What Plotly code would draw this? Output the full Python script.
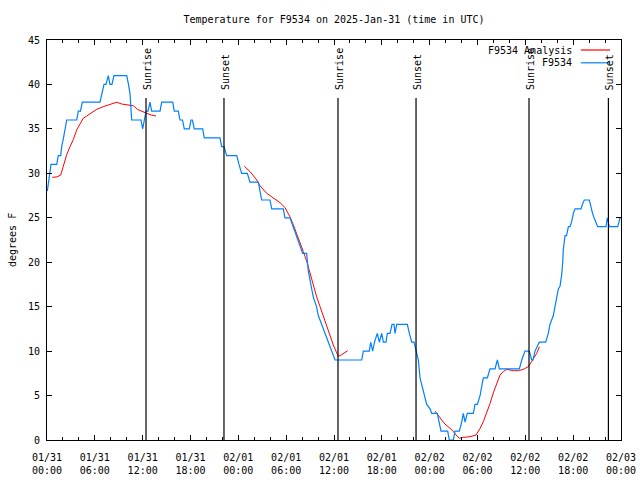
import pandas as pd
import plotly.graph_objects as go

BASE = pd.Timestamp("2025-01-31 00:00")

# Observed station temperature (hours since 01/31 00:00 UTC, degrees F)
obs_hours = [0.04, 0.38, 0.50, 1.22, 1.42, 1.72, 1.84, 2.07, 2.26, 2.47, 3.73, 3.93, 4.20, 4.43,
             6.65, 6.86, 7.15, 7.40, 7.69, 7.90, 8.15, 8.40, 10.00, 10.22, 10.41, 10.62, 11.79,
             12.00, 12.23, 12.42, 12.67, 12.92, 13.13, 14.18, 14.39, 15.77, 15.97, 16.47, 16.68,
             17.00, 17.22, 17.85, 18.06, 18.23, 18.48, 19.53, 19.73, 21.70, 21.91, 22.20, 22.54,
             23.80, 24.08, 24.42, 25.13, 25.46, 26.51, 26.72, 26.93, 27.97, 28.19, 29.64, 29.85,
             30.48, 30.90, 31.32, 31.74, 32.07, 32.57, 32.78, 33.20, 33.43, 33.81, 34.03, 34.46,
             34.87, 35.29, 35.71, 36.13, 39.48, 39.68, 40.43, 40.60, 40.85, 41.08, 41.43, 41.68,
             41.99, 42.19, 42.52, 42.69, 43.03, 43.28, 43.53, 43.65, 43.87, 45.20, 45.45, 45.75,
             46.04, 46.29, 46.58, 46.79, 47.20, 47.63, 48.04, 48.26, 48.96, 49.17, 49.42, 50.26,
             50.46, 50.96, 51.18, 51.72, 52.02, 52.22, 52.44, 52.72, 53.48, 53.69, 53.98, 54.32,
             54.73, 55.24, 55.57, 56.20, 56.49, 56.74, 59.25, 59.55, 59.96, 60.50, 60.80, 60.96,
             61.22, 61.47, 61.76, 62.56, 62.88, 63.09, 63.51, 63.72, 63.93, 64.14, 64.35, 64.56,
             64.69, 64.76, 64.98, 65.17, 65.40, 65.61, 65.82, 66.02, 66.23, 66.99, 67.20, 67.40,
             68.03, 68.20, 68.43, 68.62, 68.84, 69.08, 70.12, 70.28, 70.54, 71.59, 71.88, 72.00]
obs_temps = [28, 30, 31, 31, 32, 32, 33, 34, 35, 36, 36, 37, 37, 38,
             38, 39, 40, 40, 41, 40, 40, 41, 41, 40, 39, 36, 36,
             35, 36, 37, 37, 38, 37, 37, 38, 38, 37, 37, 36,
             36, 35, 35, 36, 36, 35, 35, 34, 34, 33, 33, 32,
             32, 31, 30, 30, 29, 29, 28, 27, 27, 26, 26, 25,
             25, 24, 23, 22, 21, 21, 19, 17, 16, 15, 14, 13,
             12, 11, 10, 9, 9, 10, 10, 11, 10, 11, 12, 11,
             12, 11, 11, 12, 12, 13, 13, 12, 13, 13, 12, 11,
             11, 10, 9, 7, 5.5, 4, 3.5, 3, 3, 2, 1, 1,
             0, 0, 1, 1, 2, 3, 2, 3, 3, 4, 4, 5,
             7, 7, 8, 8, 9, 8, 8, 9, 10, 10, 9, 9,
             10, 10.5, 11, 11, 12, 13, 14, 15, 16, 17, 17.3, 18.6,
             20, 21.4, 23, 23, 24, 24, 24.6, 25.5, 26, 26, 26.6, 27,
             27, 26.3, 25.5, 25, 24.5, 24, 24, 25, 24, 24, 25, 25]

# Analysis curve, three separate segments
ana1_hours = [0.66, 1.22, 1.72, 2.04, 2.47, 2.89, 3.30, 3.73, 4.14, 4.55, 4.98, 5.61, 6.23,
              7.06, 7.69, 8.32, 8.74, 9.37, 10.20, 10.83, 11.33, 11.88, 12.51, 13.13, 13.67]
ana1_temps = [29.55, 29.6, 29.8, 30.9, 32.1, 33.0, 33.8, 34.9, 35.6, 36.2, 36.45, 36.8, 37.2,
              37.5, 37.7, 37.9, 38.0, 37.8, 37.7, 37.6, 37.2, 36.95, 36.75, 36.55, 36.45]
ana2_hours = [24.75, 25.46, 26.31, 26.72, 27.56, 28.39, 29.23, 29.85, 30.48, 30.90, 31.32,
              31.74, 32.15, 32.58, 32.99, 33.40, 33.83, 34.25, 34.66, 35.09, 35.50, 35.91,
              36.34, 36.54, 36.97, 37.38, 37.72]
ana2_temps = [30.8, 30.2, 29.25, 28.6, 27.75, 27.2, 26.7, 26.15, 25.1, 24.2, 23.25,
              22.3, 21.2, 20.1, 18.75, 17.4, 16.1, 15.0, 13.9, 12.75, 11.6, 10.7,
              9.8, 9.4, 9.6, 9.8, 10.05]
ana3_hours = [48.67, 49.08, 49.51, 49.92, 50.46, 50.89, 51.31, 51.72, 52.22, 53.06, 53.81,
              54.32, 54.73, 55.16, 55.57, 55.98, 56.41, 56.82, 57.24, 57.66, 58.49, 59.12,
              59.75, 60.38, 60.71, 61.00, 61.43, 61.76]
ana3_temps = [3.26, 2.7, 2.25, 1.8, 1.43, 1.05, 0.56, 0.19, 0.3, 0.37, 0.56,
              1.3, 2.06, 3.0, 4.1, 5.3, 6.4, 7.3, 7.7, 7.95, 7.8, 7.8,
              7.95, 8.25, 8.7, 9.07, 9.75, 10.5]

sun_labels = ["Sunrise", "Sunset", "Sunrise", "Sunset", "Sunrise", "Sunset"]
sun_hours = [12.42, 22.20, 36.50, 46.29, 60.46, 70.42]

legend_names = ["F9534 Analysis", "F9534"]
title_text = "Temperature for F9534 on 2025-Jan-31 (time in UTC)"
y_title = "degrees F"


def to_time(hours):
    return BASE + pd.to_timedelta(pd.Series(hours), unit="h")


RED = "#ff0000"
BLUE = "#0080ff"
FONT = "DejaVu Sans Mono"

fig = go.Figure()
for hrs, tmps in [(ana1_hours, ana1_temps), (ana2_hours, ana2_temps), (ana3_hours, ana3_temps)]:
    fig.add_trace(go.Scatter(x=to_time(hrs), y=tmps, mode="lines",
                             line=dict(color=RED, width=1), showlegend=False,
                             hoverinfo="skip"))
fig.add_trace(go.Scatter(x=to_time(obs_hours), y=obs_temps, mode="lines",
                         line=dict(color=BLUE, width=1.2), showlegend=False))

sun_times = to_time(sun_hours)
for lbl, t in zip(sun_labels, sun_times):
    fig.add_shape(type="line", xref="x", yref="paper", x0=t, x1=t, y0=0, y1=0.855,
                  line=dict(color="black", width=1.2))
    fig.add_annotation(x=t, xref="x", y=0.87, yref="paper", text=lbl, textangle=-90,
                       showarrow=False, xanchor="center", yanchor="bottom", xshift=1,
                       font=dict(family=FONT, size=10, color="black"))

# manual legend (gnuplot style: text right-aligned, sample on the right)
leg_y = [0.975, 0.943]
leg_col = [RED, BLUE]
for name, yy, col in zip(legend_names, leg_y, leg_col):
    fig.add_annotation(x=0.918, y=yy, xref="paper", yref="paper", text=name,
                       showarrow=False, xanchor="right", yanchor="middle",
                       font=dict(family=FONT, size=10, color="black"))
    fig.add_shape(type="line", xref="paper", yref="paper", x0=0.930, x1=0.981,
                  y0=yy, y1=yy, line=dict(color=col, width=1.2))

# y-axis title as rotated text at the left edge
fig.add_annotation(x=-35 / 574, xref="paper", y=0.5, yref="paper", text=y_title,
                   textangle=-90, showarrow=False, xanchor="center", yanchor="middle",
                   font=dict(family=FONT, size=10, color="black"))

fig.update_layout(
    width=640, height=480,
    margin=dict(l=47, r=19, t=40, b=40, autoexpand=False),
    paper_bgcolor="white", plot_bgcolor="white",
    font=dict(family=FONT, size=10, color="black"),
    title=dict(text=title_text, xref="paper", x=0.5, xanchor="center", y=0.96,
               yanchor="middle", font=dict(family=FONT, size=10, color="black")),
    showlegend=False,
)
fig.update_xaxes(
    type="date", automargin=False,
    range=[BASE, BASE + pd.Timedelta(hours=72)],
    dtick=6 * 3600 * 1000, tick0=BASE, tickformat="%m/%d<br>%H:%M",
    ticks="inside", ticklen=5, tickcolor="black", tickwidth=1,
    minor=dict(dtick=2 * 3600 * 1000, ticks="inside", ticklen=3, tickcolor="black"),
    showline=True, linecolor="black", linewidth=1, mirror="ticks",
    showgrid=False, zeroline=False, ticklabelstandoff=8,
    tickfont=dict(family=FONT, size=10, color="black"),
)
fig.update_yaxes(
    range=[0, 45], dtick=5, tick0=0, automargin=False,
    ticks="inside", ticklen=5, tickcolor="black", tickwidth=1,
    showline=True, linecolor="black", linewidth=1, mirror="ticks",
    showgrid=False, zeroline=False, ticklabelstandoff=4,
    tickfont=dict(family=FONT, size=10, color="black"),
)

fig.write_html("out.html", config={"displayModeBar": False},
               post_script="document.body.style.margin='0px';document.body.style.overflow='hidden';")
